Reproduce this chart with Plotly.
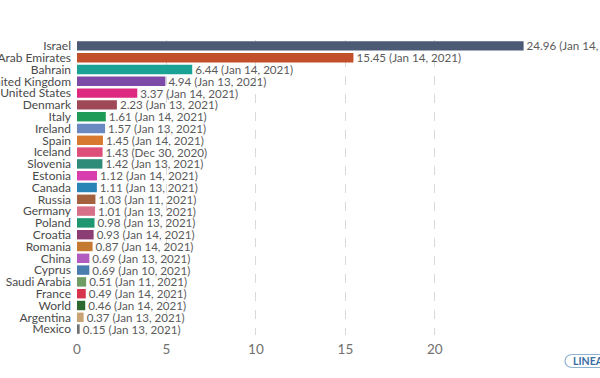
import plotly.graph_objects as go

countries = ["Israel", "United Arab Emirates", "Bahrain", "United Kingdom", "United States",
             "Denmark", "Italy", "Ireland", "Spain", "Iceland", "Slovenia", "Estonia",
             "Canada", "Russia", "Germany", "Poland", "Croatia", "Romania", "China",
             "Cyprus", "Saudi Arabia", "France", "World", "Argentina", "Mexico"]
values = [24.96, 15.45, 6.44, 4.94, 3.37, 2.23, 1.61, 1.57, 1.45, 1.43, 1.42, 1.12,
          1.11, 1.03, 1.01, 0.98, 0.93, 0.87, 0.69, 0.69, 0.51, 0.49, 0.46, 0.37, 0.15]
dates = ["Jan 14, 2021", "Jan 14, 2021", "Jan 14, 2021", "Jan 13, 2021", "Jan 14, 2021",
         "Jan 13, 2021", "Jan 14, 2021", "Jan 13, 2021", "Jan 14, 2021", "Dec 30, 2020",
         "Jan 13, 2021", "Jan 14, 2021", "Jan 13, 2021", "Jan 11, 2021", "Jan 13, 2021",
         "Jan 13, 2021", "Jan 14, 2021", "Jan 14, 2021", "Jan 13, 2021", "Jan 10, 2021",
         "Jan 11, 2021", "Jan 14, 2021", "Jan 14, 2021", "Jan 13, 2021", "Jan 13, 2021"]
colors = ["#4C5A76", "#C2502A", "#1AA394", "#7E4AA8", "#DD2A80", "#A04956", "#1F9B57",
          "#6A88C2", "#D7792F", "#DD4E78", "#2F8C78", "#D83EAE", "#2B84B6", "#A3613E",
          "#D7718A", "#1E9670", "#8C3D73", "#C47A30", "#B35CC0", "#4A7DAE", "#6E9C62",
          "#D7354D", "#2D6831", "#C8A373", "#707070"]
x_ticks = [0, 5, 10, 15, 20]

labels = [f"{v:.2f} ({d})" for v, d in zip(values, dates)]

fig = go.Figure()
fig.add_trace(go.Bar(
    x=values, y=countries, orientation="h",
    marker=dict(color=colors, line=dict(width=0)),
    width=0.8, hoverinfo="skip",
    text=labels, textposition="outside", constraintext="none",
    textfont=dict(family="Lato", size=11.6, color="#5b5b5b"),
    cliponaxis=False,
))

L, T, B = 77, 39.6, 43.4
W, H = 600, 378
R = W - L - 501
fig.update_layout(
    width=W, height=H,
    margin=dict(l=L, r=R, t=T, b=B, autoexpand=False),
    paper_bgcolor="white", plot_bgcolor="white",
    showlegend=False,
    bargap=0.2,
    font=dict(family="Lato", color="#555"),
)
fig.update_xaxes(
    range=[0, 28], tickmode="array", tickvals=x_ticks, ticktext=[str(t) for t in x_ticks],
    showgrid=True, gridcolor="#d9d9d9", griddash="dash", gridwidth=1,
    zeroline=False, showline=False, ticks="",
    ticklabelstandoff=4,
    tickfont=dict(family="Lato", size=13.5, color="#707070"),
    automargin=False,
)
fig.update_yaxes(
    categoryorder="array", categoryarray=countries,
    range=[len(countries) - 0.5, -0.5],
    tickmode="array", tickvals=countries, ticktext=countries,
    showgrid=False, zeroline=False, showline=False, ticks="",
    ticklabelstandoff=5,
    tickfont=dict(family="Lato", size=12, color="#4a4a4a"),
    automargin=False,
)

# LINEAR toggle button (pill)
fig.add_shape(
    type="path", xref="paper", yref="paper", xsizemode="pixel", ysizemode="pixel",
    xanchor=0, yanchor=0,
    path="M 495,-19.5 L 640,-19.5 L 640,-32.5 L 495,-32.5 C 491,-32.5 488,-29.5 488,-26 C 488,-22.5 491,-19.5 495,-19.5 Z",
    line=dict(color="#8fb0cf", width=1.2), fillcolor="white", layer="above",
)
fig.add_annotation(
    xref="paper", yref="paper", x=0, y=0, xshift=494, yshift=-26,
    xanchor="left", yanchor="middle", showarrow=False,
    text="<b>LINEAR</b>", font=dict(family="Lato", size=10.5, color="#3a6ea5"),
)

fig.write_html("out.html", config={"displayModeBar": False},
               post_script="document.body.style.margin='0';")
